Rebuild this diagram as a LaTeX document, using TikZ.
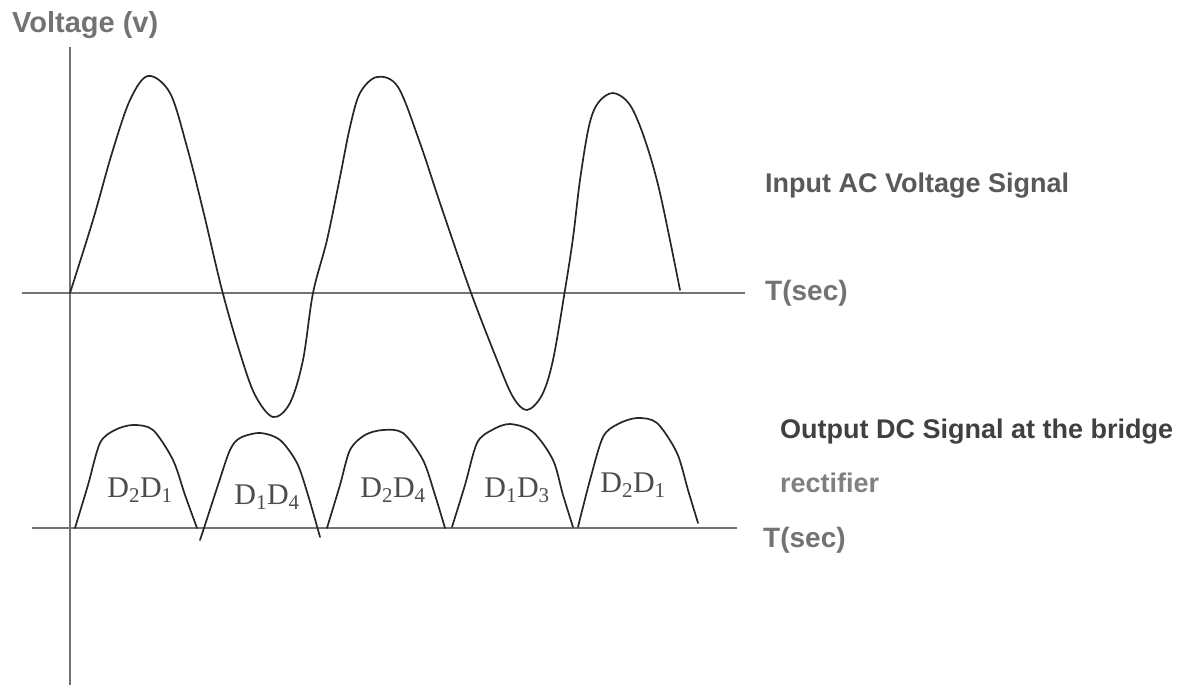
\documentclass[tikz,border=0pt]{standalone}
\usepackage{fontspec}
\setmainfont{Liberation Sans}
\newfontfamily\dfont{Liberation Serif}
\usetikzlibrary{positioning}

\begin{document}
\begin{tikzpicture}[
x=1pt, y=-1pt,
node distance=20pt,
axis/.style={draw=black!55, line width=1.6pt},
wave/.style={draw=black!85, line width=1.7pt, line join=round, line cap=round},
lbl/.style={anchor=base west, inner sep=0pt, font=\fontsize{27}{32}\selectfont\bfseries},
tlbl/.style={inner sep=0pt, text=black!55, font=\fontsize{28}{32}\selectfont\bfseries},
dlbl/.style={inner sep=0pt, text=black!70, font=\dfont\fontsize{30}{32}\selectfont}
]
\useasboundingbox (0,0) rectangle (1181,685);

\coordinate (ytop) at (70,47);
\coordinate (ybot) at (70,685);
\coordinate (acl) at (22,293);
\coordinate (acr) at (745,293);
\coordinate (dcl) at (32,528);
\coordinate (dcr) at (737,528);

\draw[axis] (ytop) -- (ybot);
\draw[axis] (acl) -- (acr);
\draw[axis] (dcl) -- (dcr);

\node[lbl, text=black!55, font=\fontsize{29}{32}\selectfont\bfseries] (vlab) at (12,33) {Voltage (v)};
\node[lbl, text=black!65] (aclab) at (765,192) {Input AC Voltage Signal};
\node[tlbl, right=of acr] (tac) {T(sec)};
\node[lbl, text=black!75] (dclab) at (780,438) {Output DC Signal at the bridge};
\node[lbl, text=black!50] (rect) at (780,492) {rectifier};
\node[tlbl, anchor=base west] (tdc) at (763,547) {T(sec)};

\draw[wave] plot[smooth, tension=0.55] coordinates {(70,293) (93,220) (112,153) (130,100) (148,76) (170,93) (187,147) (203,210) (222,290) (240,353) (255,395) (273,417) (290,403) (303,360) (313,293) (327,240) (340,177) (350,127) (360,93) (377,77) (398,87) (420,143) (440,203) (470,290) (497,360) (513,397) (527,410) (542,395) (553,360) (565,290) (573,238) (580,180) (589,126) (598,103) (613,93) (630,105) (645,140) (660,193) (680,290)};

\draw[wave] plot[smooth, tension=0.5] coordinates {(75,528) (88,485) (100,443) (115,430) (133,425) (153,430) (173,460) (185,495) (197,528)};
\draw[wave] plot[smooth, tension=0.5] coordinates {(200,540) (205,525) (218,485) (230,450) (240,438) (260,433) (280,440) (297,463) (308,495) (320,537)};
\draw[wave] plot[smooth, tension=0.5] coordinates {(327,528) (340,485) (350,450) (365,435) (383,430) (403,433) (423,460) (435,495) (445,528)};
\draw[wave] plot[smooth, tension=0.5] coordinates {(452,527) (465,485) (477,443) (492,430) (510,424) (533,432) (553,460) (563,495) (573,527)};
\draw[wave] plot[smooth, tension=0.5] coordinates {(578,527) (590,480) (603,437) (618,424) (637,418) (657,423) (677,453) (688,490) (698,523)};

\node[dlbl] (p1) at (140,490) {D\textsubscript{2}D\textsubscript{1}};
\node[dlbl] (p2) at (267,497) {D\textsubscript{1}D\textsubscript{4}};
\node[dlbl] (p3) at (393,490) {D\textsubscript{2}D\textsubscript{4}};
\node[dlbl] (p4) at (517,490) {D\textsubscript{1}D\textsubscript{3}};
\node[dlbl] (p5) at (633,485) {D\textsubscript{2}D\textsubscript{1}};
\end{tikzpicture}
\end{document}
